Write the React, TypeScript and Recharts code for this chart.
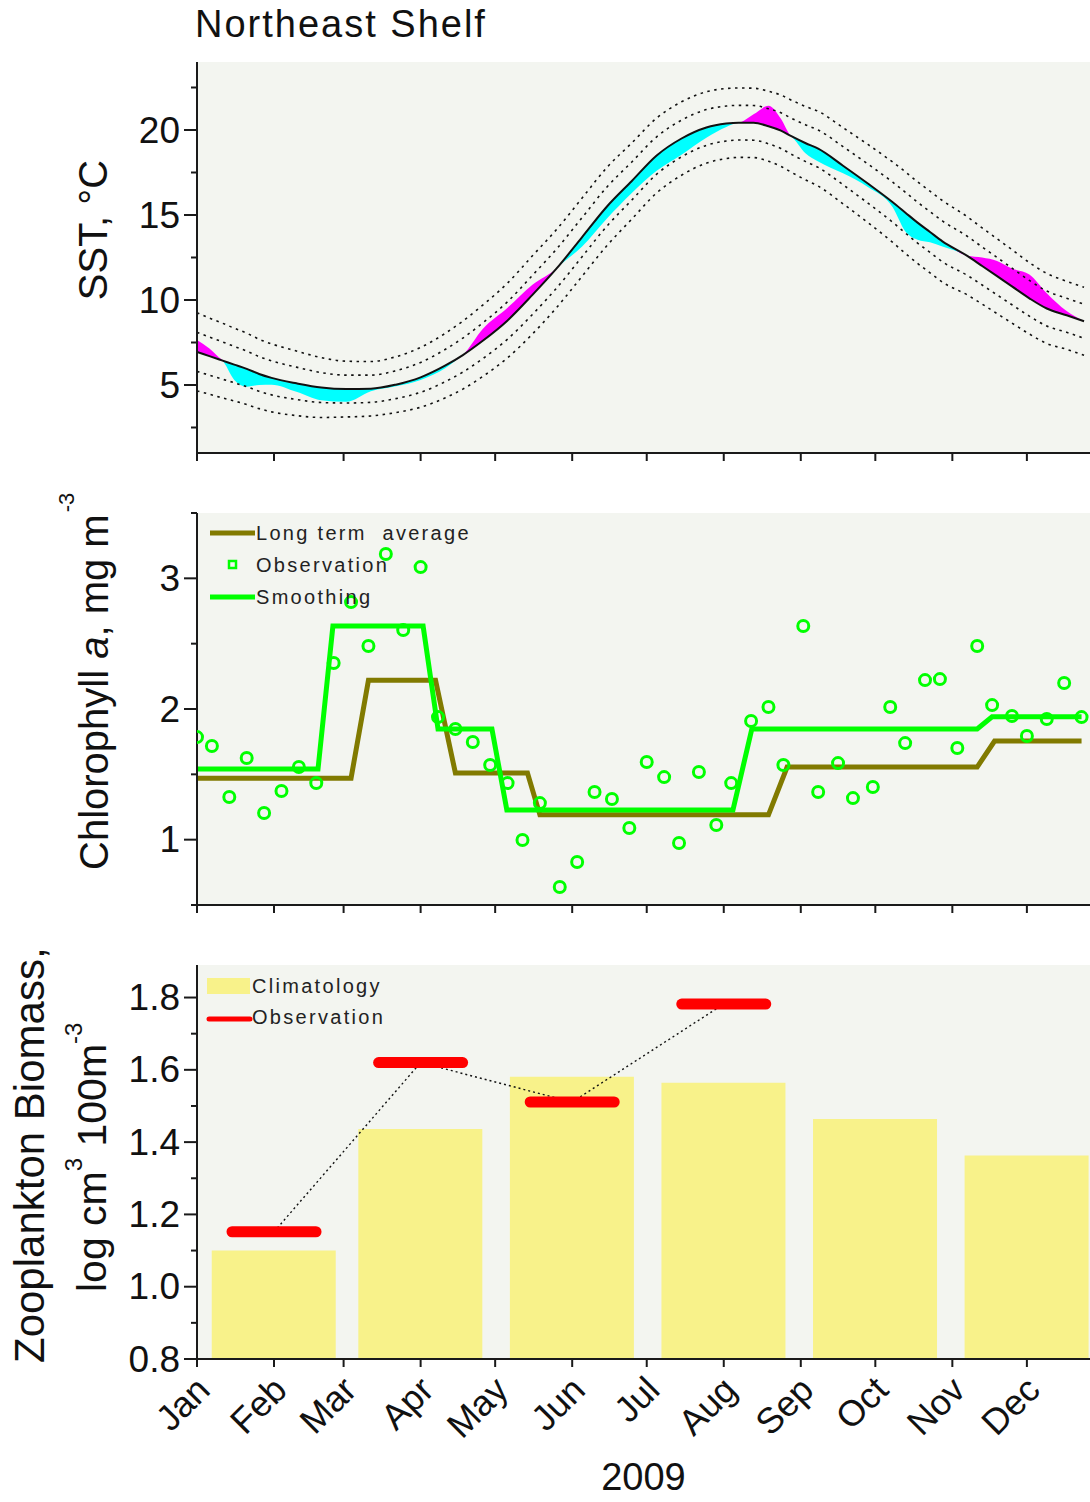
import React from 'react';
import { ComposedChart, Line, Area, Bar, Scatter, XAxis, YAxis, CartesianGrid, Legend } from 'recharts';

const FONT = '"Liberation Sans", Arial, sans-serif';
const BG = '#f3f5f0';
const AXIS = '#1a1a1a';
const TXT = '#111';
const GREEN = '#00ff00';
const OLIVE = '#817a00';
const YELLOW = '#f8f28a';

// x axis = day of year 2009
const monthStarts = [0, 31, 59, 90, 120, 151, 181, 212, 243, 273, 304, 334];
const monthNames = ['Jan', 'Feb', 'Mar', 'Apr', 'May', 'Jun', 'Jul', 'Aug', 'Sep', 'Oct', 'Nov', 'Dec'];
const X_DOMAIN: [number, number] = [0, 359.4];

// ---- SST panel
const sstDays = [0, 5, 10, 15, 20, 25, 30, 40, 50, 60, 70, 80, 90, 100, 107, 115, 125, 135, 145, 155, 165, 175, 185, 195, 205, 213, 218, 224, 230, 235, 239, 245, 250, 260, 270, 280, 285, 290, 295, 300, 310, 316, 322, 328, 335, 342, 350, 357];
const sstMean = [6.95, 6.7, 6.45, 6.2, 5.95, 5.65, 5.42, 5.1, 4.85, 4.76, 4.78, 5.02, 5.45, 6.15, 6.76, 7.6, 8.8, 10.3, 11.9, 13.7, 15.5, 17.0, 18.5, 19.5, 20.15, 20.38, 20.43, 20.42, 20.22, 19.96, 19.65, 19.22, 18.9, 17.9, 16.85, 15.75, 15.15, 14.55, 14.0, 13.45, 12.6, 12.0, 11.4, 10.8, 10.1, 9.5, 9.1, 8.75];
const sstSd = [1.15, 1.12, 1.1, 1.07, 1.05, 1.02, 1.0, 0.95, 0.88, 0.82, 0.8, 0.82, 0.88, 0.95, 1.0, 1.05, 1.1, 1.15, 1.15, 1.15, 1.15, 1.12, 1.1, 1.08, 1.05, 1.03, 1.02, 1.02, 1.03, 1.05, 1.06, 1.08, 1.1, 1.12, 1.15, 1.18, 1.2, 1.2, 1.2, 1.2, 1.15, 1.12, 1.1, 1.08, 1.05, 1.03, 1.0, 1.0];
const sstObs = [7.65, 7.15, 6.5, 5.3, 4.9, 5.0, 5.02, 4.6, 4.1, 4.01, 4.63, 4.92, 5.3, 6.0, 6.76, 8.3, 9.55, 10.9, 11.9, 13.15, 14.8, 16.3, 17.6, 18.55, 19.55, 20.18, 20.43, 20.92, 21.42, 20.66, 19.65, 18.62, 18.15, 17.45, 16.65, 15.45, 14.05, 13.55, 13.4, 13.15, 12.6, 12.5, 12.3, 11.85, 11.5, 10.4, 9.35, 8.75];
const sstTicks = [2.5, 5, 7.5, 10, 12.5, 15, 17.5, 20, 22.5];

const sstTable = sstDays.map((day, i) => {
  const m = sstMean[i];
  const s = sstSd[i];
  const o = sstObs[i];
  return {
    day,
    mean: m,
    hi1: m + s,
    hi2: m + 2 * s,
    lo1: m - s,
    lo2: m - 2 * s,
    warm: [m, Math.max(m, o)],
    cold: [Math.min(m, o), m],
  };
});

// ---- Chlorophyll panel
const ltaDays = [0, 62, 69, 96, 104, 133, 138, 230, 237.5, 314, 321, 356];
const ltaValues = [1.47, 1.47, 2.22, 2.22, 1.51, 1.51, 1.19, 1.19, 1.556, 1.556, 1.755, 1.755];
const smoothDays = [0, 48.7, 54.7, 91, 97, 118.7, 124.7, 215.7, 223.3, 314, 320, 356];
const smoothValues = [1.54, 1.54, 2.635, 2.635, 1.847, 1.847, 1.227, 1.227, 1.847, 1.847, 1.94, 1.94];
const chlObsDays = [0, 6, 13, 20, 27, 34, 41, 48, 55, 62, 69, 76, 83, 90, 97, 104, 111, 118, 125, 131, 138, 146, 153, 160, 167, 174, 181, 188, 194, 202, 209, 215, 223, 230, 236, 244, 250, 258, 264, 272, 279, 285, 293, 299, 306, 314, 320, 328, 334, 342, 349, 356];
const chlObsValues = [1.785, 1.717, 1.326, 1.625, 1.204, 1.372, 1.556, 1.433, 2.352, 2.818, 2.482, 3.186, 2.604, 3.086, 1.938, 1.847, 1.747, 1.571, 1.433, 0.997, 1.28, 0.638, 0.829, 1.365, 1.311, 1.089, 1.594, 1.479, 0.974, 1.518, 1.112, 1.433, 1.908, 2.015, 1.571, 2.635, 1.365, 1.586, 1.318, 1.403, 2.015, 1.739, 2.221, 2.229, 1.701, 2.482, 2.03, 1.946, 1.793, 1.923, 2.199, 1.938];
const chlTicks = [0.5, 1, 1.5, 2, 2.5, 3, 3.5];

const ltaTable = ltaDays.map((day, i) => ({ day, v: ltaValues[i] }));
const smoothTable = smoothDays.map((day, i) => ({ day, v: smoothValues[i] }));
const chlObsTable = chlObsDays.map((day, i) => ({ day, v: chlObsValues[i] }));

// ---- Zooplankton panel (bimonthly)
const zooDays = [31, 90, 151, 212, 273, 334];
const zooClim = [1.10, 1.436, 1.581, 1.564, 1.464, 1.363];
const zooObs = [1.152, 1.62, 1.511, 1.782];
const zooTicks = [0.8, 0.9, 1.0, 1.1, 1.2, 1.3, 1.4, 1.5, 1.6, 1.7, 1.8];

const zooTable = zooDays.map((day, i) => ({ day, clim: zooClim[i], obs: zooObs[i] }));
const zooObsTable = zooObs.map((obs, i) => ({ day: zooDays[i], obs }));

const W = 1090;
const Y_AXIS_W = 197;

function makeYTick(isMajor: (v: number) => boolean, fmt: (v: number) => string) {
  return (props: any) => {
    const { x, y, payload } = props;
    const v = payload.value;
    const major = isMajor(v);
    return (
      <g>
        <line x1={x - (major ? 13 : 6)} x2={x} y1={y} y2={y} stroke={AXIS} strokeWidth={2} />
        {major && (
          <text x={x - 17} y={y} textAnchor="end" dominantBaseline="central" fontSize={37} fontFamily={FONT} fill={TXT}>
            {fmt(v)}
          </text>
        )}
      </g>
    );
  };
}

function makeXTick(withLabel: boolean) {
  return (props: any) => {
    const { x, y, payload } = props;
    const name = monthNames[monthStarts.indexOf(payload.value)];
    const lx = x + 15;
    const ly = y + 33;
    return (
      <g>
        <line x1={x} x2={x} y1={y} y2={y + 8} stroke={AXIS} strokeWidth={2} />
        {withLabel && (
          <text x={lx} y={ly} transform={`rotate(-45 ${lx} ${ly})`} textAnchor="end" fontSize={36} fontFamily={FONT} fill={TXT}>
            {name}
          </text>
        )}
      </g>
    );
  };
}

const SstLabel = (props: any) => {
  const { viewBox } = props;
  const x = viewBox.x + 107;
  const y = viewBox.y + 168;
  return (
    <text x={x} y={y} transform={`rotate(-90 ${x} ${y})`} textAnchor="middle" fontSize={40} fontFamily={FONT} fill={TXT}>
      SST, °C
    </text>
  );
};

const ChlLabel = (props: any) => {
  const { viewBox } = props;
  const x = viewBox.x + 108;
  const y = viewBox.y + 357;
  return (
    <text x={x} y={y} transform={`rotate(-90 ${x} ${y})`} textAnchor="start" fontSize={40} fontFamily={FONT} fill={TXT} style={{ whiteSpace: 'pre' }}>
      {'Chlorophyll '}
      <tspan fontStyle="italic">a</tspan>
      {', mg m'}
      <tspan dx={2} dy={-34} fontSize={22}>-3</tspan>
    </text>
  );
};

const ZooLabel = (props: any) => {
  const { viewBox } = props;
  const x1 = viewBox.x + 44;
  const y1 = viewBox.y + 398;
  const x2 = viewBox.x + 106;
  const y2 = viewBox.y + 327;
  return (
    <g fontFamily={FONT} fill={TXT}>
      <text x={x1} y={y1} transform={`rotate(-90 ${x1} ${y1})`} fontSize={42}>
        Zooplankton Biomass,
      </text>
      <text x={x2} y={y2} transform={`rotate(-90 ${x2} ${y2})`} fontSize={41} style={{ whiteSpace: 'pre' }}>
        {'log cm'}
        <tspan dy={-24} fontSize={24}>3</tspan>
        <tspan dy={24}>{' 100m'}</tspan>
        <tspan dy={-24} fontSize={24}>-3</tspan>
      </text>
    </g>
  );
};

const ChlObsMarker = (props: any) => (
  <circle cx={props.cx} cy={props.cy} r={5.5} fill="none" stroke={GREEN} strokeWidth={3} />
);

const ZooObsMarker = (props: any) => (
  <line x1={props.cx - 42} x2={props.cx + 42} y1={props.cy} y2={props.cy} stroke="#ff0000" strokeWidth={11} strokeLinecap="round" />
);

const legendText = { fontFamily: FONT, fontSize: 20, letterSpacing: 2.3, fill: '#222', whiteSpace: 'pre' as const };

const ChlLegend = () => (
  <svg width={280} height={90} style={{ overflow: 'visible', display: 'block' }}>
    <line x1={0} x2={45} y1={8} y2={8} stroke={OLIVE} strokeWidth={5} />
    <text x={46} y={8} dominantBaseline="central" style={legendText}>Long term  average</text>
    <rect x={19} y={36} width={7} height={7} fill="none" stroke={GREEN} strokeWidth={2.5} />
    <text x={46} y={40} dominantBaseline="central" style={legendText}>Observation</text>
    <line x1={0} x2={45} y1={72} y2={72} stroke={GREEN} strokeWidth={5} />
    <text x={46} y={72} dominantBaseline="central" style={legendText}>Smoothing</text>
  </svg>
);

const ZooLegend = () => (
  <svg width={220} height={60} style={{ overflow: 'visible', display: 'block' }}>
    <rect x={0} y={0} width={43} height={16} fill={YELLOW} />
    <text x={45} y={8} dominantBaseline="central" style={legendText}>Climatology</text>
    <line x1={2} x2={43} y1={41} y2={41} stroke="#ff0000" strokeWidth={5} strokeLinecap="round" />
    <text x={45} y={39} dominantBaseline="central" style={legendText}>Observation</text>
  </svg>
);

const dotted = { stroke: '#111', strokeWidth: 1.6, strokeDasharray: '2.5 4.5' };

export default function App() {
  return (
    <div style={{ position: 'absolute', left: 0, top: 0, width: W, height: 1502, background: '#fff', fontFamily: FONT }}>
      <div style={{ position: 'absolute', left: 195, top: 5, fontSize: 38, lineHeight: '38px', letterSpacing: 2, color: TXT, whiteSpace: 'nowrap' }}>
        Northeast Shelf
      </div>

      {/* SST */}
      <div style={{ position: 'absolute', left: 0, top: 0 }}>
        <ComposedChart width={W} height={470} data={sstTable} margin={{ top: 62, right: 0, bottom: 0, left: 0 }}>
          <CartesianGrid fill={BG} stroke="none" horizontal={false} vertical={false} />
          <XAxis dataKey="day" type="number" domain={X_DOMAIN} ticks={monthStarts} interval={0} height={17}
            tickSize={0} tickMargin={0} tick={makeXTick(false)} axisLine={{ stroke: AXIS, strokeWidth: 2 }} allowDataOverflow />
          <YAxis type="number" domain={[1, 24]} ticks={sstTicks} interval={0} width={Y_AXIS_W}
            tickSize={0} tickMargin={0} tick={makeYTick((v) => v % 5 === 0, (v) => String(v))}
            axisLine={{ stroke: AXIS, strokeWidth: 2 }} label={<SstLabel />} allowDataOverflow />
          <Line dataKey="hi2" type="monotone" {...dotted} dot={false} activeDot={false} isAnimationActive={false} />
          <Line dataKey="hi1" type="monotone" {...dotted} dot={false} activeDot={false} isAnimationActive={false} />
          <Line dataKey="lo1" type="monotone" {...dotted} dot={false} activeDot={false} isAnimationActive={false} />
          <Line dataKey="lo2" type="monotone" {...dotted} dot={false} activeDot={false} isAnimationActive={false} />
          <Area dataKey="warm" type="monotone" fill="#ff00ff" fillOpacity={1} stroke="none" isAnimationActive={false} activeDot={false} />
          <Area dataKey="cold" type="monotone" fill="#00ffff" fillOpacity={1} stroke="none" isAnimationActive={false} activeDot={false} />
          <Line dataKey="mean" type="monotone" stroke="#111" strokeWidth={2} dot={false} activeDot={false} isAnimationActive={false} />
        </ComposedChart>
      </div>

      {/* Chlorophyll */}
      <div style={{ position: 'absolute', left: 0, top: 470 }}>
        <ComposedChart width={W} height={452} margin={{ top: 43, right: 0, bottom: 0, left: 0 }}>
          <CartesianGrid fill={BG} stroke="none" horizontal={false} vertical={false} />
          <XAxis dataKey="day" type="number" domain={X_DOMAIN} ticks={monthStarts} interval={0} height={17}
            tickSize={0} tickMargin={0} tick={makeXTick(false)} axisLine={{ stroke: AXIS, strokeWidth: 2 }} allowDataOverflow />
          <YAxis type="number" domain={[0.5, 3.5]} ticks={chlTicks} interval={0} width={Y_AXIS_W}
            tickSize={0} tickMargin={0} tick={makeYTick((v) => Number.isInteger(v), (v) => String(v))}
            axisLine={{ stroke: AXIS, strokeWidth: 2 }} label={<ChlLabel />} allowDataOverflow />
          <Legend layout="vertical" align="center" verticalAlign="middle" content={<ChlLegend />}
            wrapperStyle={{ left: 210, top: 55, width: 280 }} />
          <Line data={ltaTable} dataKey="v" name="Long term average" type="linear" stroke={OLIVE} strokeWidth={5}
            dot={false} activeDot={false} isAnimationActive={false} />
          <Line data={smoothTable} dataKey="v" name="Smoothing" type="linear" stroke={GREEN} strokeWidth={5}
            dot={false} activeDot={false} isAnimationActive={false} />
          <Scatter data={chlObsTable} dataKey="v" name="Observation" shape={<ChlObsMarker />} isAnimationActive={false} />
        </ComposedChart>
      </div>

      {/* Zooplankton */}
      <div style={{ position: 'absolute', left: 0, top: 922 }}>
        <ComposedChart width={W} height={580} data={zooTable} margin={{ top: 43, right: 0, bottom: 0, left: 0 }}>
          <CartesianGrid fill={BG} stroke="none" horizontal={false} vertical={false} />
          <XAxis dataKey="day" type="number" domain={X_DOMAIN} ticks={monthStarts} interval={0} height={143}
            tickSize={0} tickMargin={0} tick={makeXTick(true)} axisLine={{ stroke: AXIS, strokeWidth: 2 }}
            label={{ value: '2009', position: 'insideBottom', offset: 12, fontSize: 38, fontFamily: FONT, fill: TXT }} allowDataOverflow />
          <YAxis type="number" domain={[0.8, 1.89]} ticks={zooTicks} interval={0} width={Y_AXIS_W}
            tickSize={0} tickMargin={0} tick={makeYTick((v) => Math.round(v * 10) % 2 === 0, (v) => v.toFixed(1))}
            axisLine={{ stroke: AXIS, strokeWidth: 2 }} label={<ZooLabel />} allowDataOverflow />
          <Legend layout="vertical" align="center" verticalAlign="middle" content={<ZooLegend />}
            wrapperStyle={{ left: 207, top: 56, width: 220 }} />
          <Bar dataKey="clim" name="Climatology" fill={YELLOW} barSize={124} isAnimationActive={false} />
          <Line dataKey="obs" type="linear" stroke="#111" strokeWidth={1.4} strokeDasharray="2 3" dot={false}
            activeDot={false} isAnimationActive={false} />
          <Scatter data={zooObsTable} dataKey="obs" name="Observation" shape={<ZooObsMarker />} isAnimationActive={false} />
        </ComposedChart>
      </div>
    </div>
  );
}
